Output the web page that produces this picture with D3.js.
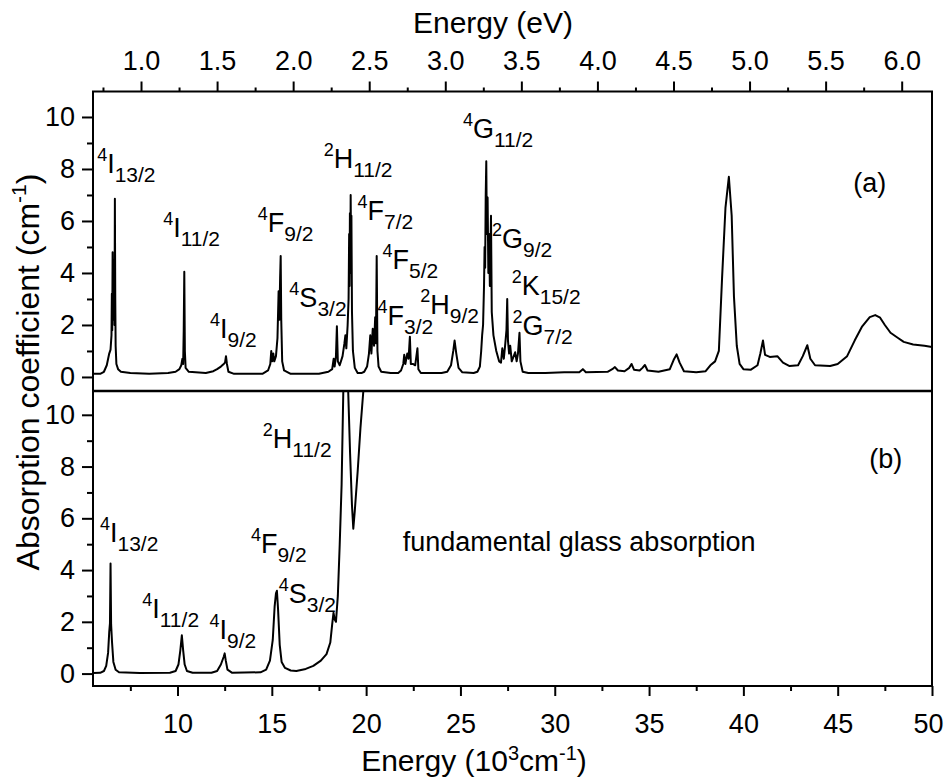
<!DOCTYPE html>
<html>
<head>
<meta charset="utf-8">
<script src="https://cdn.jsdelivr.net/npm/d3@7"></script>
<style>
    body { margin: 0; background: #fff; }
    text { font-family: "Liberation Sans", Arial, sans-serif; fill: #000; }
</style>
</head>
<body>
<div id="the_chart"></div>
<script>
// spectrum (a): [energy 10^3 cm-1, absorption cm-1]
var spectrumA = [
    [5.52, 0.12], [5.9, 0.12], [6.1, 0.2], [6.25, 0.45], [6.38, 0.9], [6.45, 1.05], [6.5, 1.6], [6.52, 3.2], [6.54, 1.8], [6.56, 4.8],
    [6.58, 2.2], [6.6, 4.2], [6.62, 2.5], [6.64, 4.5], [6.66, 2.0], [6.68, 6.85], [6.7, 3.0], [6.72, 1.2], [6.76, 0.5], [6.85, 0.3],
    [7.0, 0.2], [7.5, 0.15], [8.5, 0.12], [9.5, 0.15],
    [9.9, 0.2], [10.1, 0.3], [10.2, 0.45], [10.26, 0.7], [10.3, 0.5], [10.33, 1.8], [10.36, 4.05], [10.39, 1.0], [10.43, 0.35], [10.6, 0.2], [11.5, 0.15],
    [11.9, 0.22], [12.1, 0.3], [12.3, 0.4], [12.45, 0.5], [12.52, 0.55], [12.57, 0.8], [12.62, 0.5], [12.7, 0.2], [13.0, 0.12], [14.5, 0.12],
    [14.8, 0.25], [14.92, 0.5], [14.97, 1.0], [15.02, 0.6], [15.08, 0.9], [15.13, 0.6], [15.22, 0.8], [15.3, 1.5], [15.36, 3.3], [15.4, 2.2],
    [15.44, 3.8], [15.47, 4.65], [15.5, 2.2], [15.55, 0.6], [15.65, 0.25], [16.0, 0.12], [17.5, 0.12],
    [18.0, 0.2], [18.2, 0.3], [18.28, 0.7], [18.33, 0.4], [18.4, 0.8], [18.45, 1.95], [18.5, 0.6], [18.6, 0.45], [18.75, 0.8], [18.85, 1.3],
    [18.9, 1.6], [18.95, 1.1], [19.02, 2.0], [19.07, 3.0], [19.1, 5.5], [19.12, 3.5], [19.14, 6.3], [19.16, 4.0], [19.18, 7.0], [19.2, 5.0],
    [19.22, 6.2], [19.25, 2.5], [19.3, 1.0], [19.4, 0.35], [19.55, 0.15], [19.75, 0.15],
    [19.9, 0.2], [20.05, 0.4], [20.15, 0.9], [20.22, 1.6], [20.28, 0.9], [20.35, 1.85], [20.42, 1.2], [20.48, 2.3], [20.52, 1.3], [20.56, 4.65],
    [20.6, 1.0], [20.66, 0.4], [20.8, 0.2], [21.3, 0.15], [21.7, 0.15],
    [21.85, 0.25], [21.97, 0.5], [22.02, 0.85], [22.08, 0.5], [22.18, 0.9], [22.25, 0.7], [22.32, 1.55], [22.37, 0.5], [22.48, 0.5], [22.6, 0.45],
    [22.72, 1.1], [22.77, 0.3], [22.9, 0.15], [24.0, 0.15],
    [24.3, 0.2], [24.5, 0.45], [24.62, 1.0], [24.69, 1.4], [24.78, 0.9], [24.9, 0.35], [25.1, 0.18], [25.7, 0.15],
    [25.9, 0.2], [26.03, 0.4], [26.1, 1.0], [26.15, 1.6], [26.2, 2.0], [26.25, 3.5], [26.28, 5.0], [26.31, 4.2], [26.34, 7.0], [26.37, 8.3],
    [26.4, 5.5], [26.44, 6.9], [26.48, 4.0], [26.52, 5.5], [26.56, 3.5], [26.62, 6.2], [26.66, 2.5], [26.75, 1.6], [26.9, 1.0], [27.05, 0.6],
    [27.15, 0.55], [27.22, 1.1], [27.3, 0.7], [27.38, 1.3], [27.44, 1.8], [27.48, 3.0], [27.52, 1.4], [27.58, 0.9], [27.64, 1.2], [27.72, 0.6],
    [27.8, 0.75], [27.9, 0.95], [27.98, 0.6], [28.05, 0.9], [28.13, 1.7], [28.18, 0.6], [28.3, 0.2], [28.6, 0.15], [29.5, 0.15],
    [30.5, 0.18], [31.3, 0.18], [31.49, 0.3], [31.65, 0.18], [32.8, 0.2], [33.05, 0.3], [33.19, 0.38], [33.35, 0.25], [33.7, 0.22], [33.95, 0.35],
    [34.07, 0.5], [34.2, 0.28], [34.5, 0.25], [34.65, 0.35], [34.78, 0.46], [34.92, 0.25], [35.5, 0.2], [36.1, 0.3], [36.3, 0.65], [36.46, 0.87],
    [36.62, 0.55], [36.85, 0.22], [37.5, 0.18], [38.0, 0.22], [38.25, 0.45], [38.5, 0.6], [38.7, 1.0], [38.87, 3.8], [39.05, 6.5], [39.23, 7.7],
    [39.38, 6.2], [39.5, 3.1], [39.65, 1.2], [39.8, 0.5], [40.0, 0.3],
    [40.4, 0.28], [40.75, 0.45], [40.9, 0.9], [41.04, 1.4], [41.15, 0.85], [41.4, 0.77], [41.8, 0.8], [42.1, 0.55], [42.45, 0.42], [42.9, 0.45],
    [43.15, 0.8], [43.39, 1.22], [43.55, 0.7], [43.8, 0.45], [44.6, 0.42], [45.0, 0.5], [45.5, 0.8], [45.9, 1.4], [46.3, 1.95], [46.7, 2.3],
    [46.99, 2.38], [47.25, 2.28], [47.5, 2.0], [47.8, 1.7], [48.2, 1.5], [48.5, 1.35], [49.0, 1.25], [49.6, 1.2], [50, 1.15]
];

// spectrum (b)
var spectrumB = [
    [5.52, 0.02], [5.9, 0.03], [6.1, 0.1], [6.22, 0.3], [6.32, 0.8], [6.38, 1.6], [6.42, 1.95], [6.45, 4.25], [6.48, 1.9], [6.53, 1.2],
    [6.6, 0.45], [6.72, 0.15], [6.9, 0.05], [8.0, 0.02], [9.6, 0.03], [9.9, 0.1], [10.05, 0.35], [10.15, 0.9], [10.23, 1.48], [10.3, 0.9],
    [10.38, 0.35], [10.5, 0.1], [10.8, 0.03], [11.8, 0.03], [12.1, 0.1], [12.3, 0.35], [12.45, 0.65], [12.5, 0.78], [12.56, 0.5], [12.65, 0.15],
    [12.9, 0.03], [14.4, 0.05], [14.7, 0.15], [14.9, 0.5], [15.05, 1.3], [15.15, 2.6], [15.22, 3.1], [15.27, 3.2], [15.33, 2.5], [15.42, 1.1],
    [15.52, 0.45], [15.7, 0.22], [16.0, 0.12], [16.3, 0.1], [16.8, 0.18], [17.2, 0.3], [17.6, 0.5], [17.9, 0.75], [18.1, 1.2], [18.2, 1.9],
    [18.27, 2.35], [18.33, 2.1], [18.4, 2.0], [18.5, 3.0], [18.6, 5.0], [18.7, 7.3], [18.79, 10.9], [18.87, 13], [18.97, 13], [19.05, 10.9],
    [19.15, 8.5], [19.25, 6.5], [19.32, 5.6], [19.4, 6.3], [19.55, 7.8], [19.7, 9.5], [19.85, 10.9], [20.0, 12.5]
];

// tick values
var energyTicks = [10, 15, 20, 25, 30, 35, 40, 45, 50];
var energyMinor = [7.5, 12.5, 17.5, 22.5, 27.5, 32.5, 37.5, 42.5, 47.5];
var evTicks = [1.0, 1.5, 2.0, 2.5, 3.0, 3.5, 4.0, 4.5, 5.0, 5.5, 6.0];
var evMinor = [0.75, 1.25, 1.75, 2.25, 2.75, 3.25, 3.75, 4.25, 4.75, 5.25, 5.75];
var absTicks = [0, 2, 4, 6, 8, 10];
var absMinor = [1, 3, 5, 7, 9];

// term labels (superscript, letter, subscript) placed at [energy, absorption]
var termsA = [
    ["4", "I", "13/2", 5.74, 7.85],
    ["4", "I", "11/2", 9.24, 5.4],
    ["4", "I", "9/2", 11.72, 1.48],
    ["4", "F", "9/2", 14.26, 5.59],
    ["4", "S", "3/2", 15.93, 2.69],
    ["2", "H", "11/2", 17.75, 8.03],
    ["4", "F", "7/2", 19.54, 6.05],
    ["4", "F", "5/2", 20.87, 4.15],
    ["4", "F", "3/2", 20.6, 1.99],
    ["2", "H", "9/2", 22.87, 2.41],
    ["4", "G", "11/2", 25.13, 9.21],
    ["2", "G", "9/2", 26.67, 4.96],
    ["2", "K", "15/2", 27.72, 3.17],
    ["2", "G", "7/2", 27.76, 1.63]
];
var termsB = [
    ["2", "H", "11/2", 14.52, 8.71],
    ["4", "I", "13/2", 5.89, 5.08],
    ["4", "F", "9/2", 13.89, 4.66],
    ["4", "I", "11/2", 8.13, 2.15],
    ["4", "I", "9/2", 11.7, 1.32],
    ["4", "S", "3/2", 15.37, 2.72]
];

var w = 944;
var h = 780;
var left = 93, right = 932;
var topA = 91.5, sep = 391, botB = 686;

var svg = d3.select("#the_chart")
    .append("svg")
    .attr("width", w)
    .attr("height", h);

var xscale = d3.scaleLinear() // 10^3 cm-1
    .domain([5.52, 50])
    .range([left, right]);
var evscale = d3.scaleLinear() // 1 eV = 8.0655 10^3 cm-1
    .domain([5.52 / 8.0655, 50 / 8.0655])
    .range([left, right]);
var yA = d3.scaleLinear().domain([-0.54, 10.98]).range([sep, topA]);
var yB = d3.scaleLinear().domain([-0.48, 10.92]).range([botB, sep]);

function styleAxis(g, size) {
    g.select(".domain").remove();
    g.attr("font-size", size).attr("font-family", "'Liberation Sans', Arial, sans-serif");
    g.selectAll("line").attr("stroke", "#000").attr("stroke-width", 2);
}

// left axes, ticks outward
[yA, yB].forEach(function (ys) {
    svg.append("g")
        .attr("transform", "translate(" + left + ",0)")
        .call(d3.axisLeft(ys).tickValues(absTicks).tickSize(11).tickPadding(7).tickFormat(d3.format("d")))
        .call(styleAxis, 27);
    svg.append("g")
        .attr("transform", "translate(" + left + ",0)")
        .call(d3.axisLeft(ys).tickValues(absMinor).tickSize(6).tickFormat(""))
        .call(styleAxis, 27);
});

// bottom axis
var xaxis = svg.append("g")
    .attr("transform", "translate(0," + botB + ")")
    .call(d3.axisBottom(xscale).tickValues(energyTicks).tickSize(10).tickPadding(18).tickFormat(d3.format("d")))
    .call(styleAxis, 27);
xaxis.selectAll(".tick text")
    .filter(function (d) { return d === 50; })
    .attr("dx", -4); // keep the last label inside the page
svg.append("g")
    .attr("transform", "translate(0," + botB + ")")
    .call(d3.axisBottom(xscale).tickValues(energyMinor).tickSize(5).tickFormat(""))
    .call(styleAxis, 27);

// top axis in eV
svg.append("g")
    .attr("transform", "translate(0," + topA + ")")
    .call(d3.axisTop(evscale).tickValues(evTicks).tickSize(10).tickPadding(12).tickFormat(d3.format(".1f")))
    .call(styleAxis, 27);
svg.append("g")
    .attr("transform", "translate(0," + topA + ")")
    .call(d3.axisTop(evscale).tickValues(evMinor).tickSize(4).tickFormat(""))
    .call(styleAxis, 27);

// frames
svg.append("rect")
    .attr("x", left).attr("y", topA)
    .attr("width", right - left).attr("height", botB - topA)
    .attr("fill", "none").attr("stroke", "#000").attr("stroke-width", 2);
svg.append("line")
    .attr("x1", left).attr("x2", right).attr("y1", sep).attr("y2", sep)
    .attr("stroke", "#000").attr("stroke-width", 2.5);

// clip paths for the panels
var defs = svg.append("defs");
defs.append("clipPath").attr("id", "clipA").append("rect")
    .attr("x", left).attr("y", topA).attr("width", right - left).attr("height", sep - topA);
defs.append("clipPath").attr("id", "clipB").append("rect")
    .attr("x", left).attr("y", sep).attr("width", right - left).attr("height", botB - sep);

var lineA = d3.line().x(function (d) { return xscale(d[0]); }).y(function (d) { return yA(d[1]); });
var lineB = d3.line().x(function (d) { return xscale(d[0]); }).y(function (d) { return yB(d[1]); });

svg.append("path")
    .datum(spectrumA)
    .attr("clip-path", "url(#clipA)")
    .attr("d", lineA)
    .attr("fill", "none").attr("stroke", "#000").attr("stroke-width", 2)
    .attr("stroke-linejoin", "round");
svg.append("path")
    .datum(spectrumB)
    .attr("clip-path", "url(#clipB)")
    .attr("d", lineB)
    .attr("fill", "none").attr("stroke", "#000").attr("stroke-width", 2)
    .attr("stroke-linejoin", "round");

// term symbols
function drawTerms(terms, ys) {
    terms.forEach(function (d) {
        var t = svg.append("text")
            .attr("x", xscale(d[3]))
            .attr("y", ys(d[4]));
        t.append("tspan").attr("font-size", 18).attr("dy", -12).text(d[0]);
        t.append("tspan").attr("font-size", 27).attr("dy", 12).text(d[1]);
        t.append("tspan").attr("font-size", 21).attr("dy", 9).text(d[2]);
    });
}
drawTerms(termsA, yA);
drawTerms(termsB, yB);

svg.append("text")
    .attr("x", xscale(45.83)).attr("y", yA(7.1))
    .attr("font-size", 27).text("(a)");
svg.append("text")
    .attr("x", xscale(46.67)).attr("y", yB(7.95))
    .attr("font-size", 27).text("(b)");
svg.append("text")
    .attr("x", xscale(21.94)).attr("y", yB(4.74))
    .attr("font-size", 27).text("fundamental glass absorption");

// axis titles
svg.append("text")
    .attr("x", 493).attr("y", 33)
    .attr("text-anchor", "middle")
    .attr("font-size", 30)
    .text("Energy (eV)");

var xt = svg.append("text")
    .attr("x", 474).attr("y", 771)
    .attr("text-anchor", "middle")
    .attr("font-size", 30);
xt.append("tspan").text("Energy (10");
xt.append("tspan").attr("font-size", 20).attr("dy", -11).text("3");
xt.append("tspan").attr("dy", 11).text("cm");
xt.append("tspan").attr("font-size", 20).attr("dy", -11).text("-1");
xt.append("tspan").attr("dy", 11).text(")");

var yt = svg.append("text")
    .attr("transform", "translate(39,372) rotate(-90)")
    .attr("text-anchor", "middle")
    .attr("font-size", 32);
yt.append("tspan").text("Absorption coefficient (cm");
yt.append("tspan").attr("font-size", 21).attr("dy", -13).text("-1");
yt.append("tspan").attr("dy", 13).text(")");
</script>
</body>
</html>
